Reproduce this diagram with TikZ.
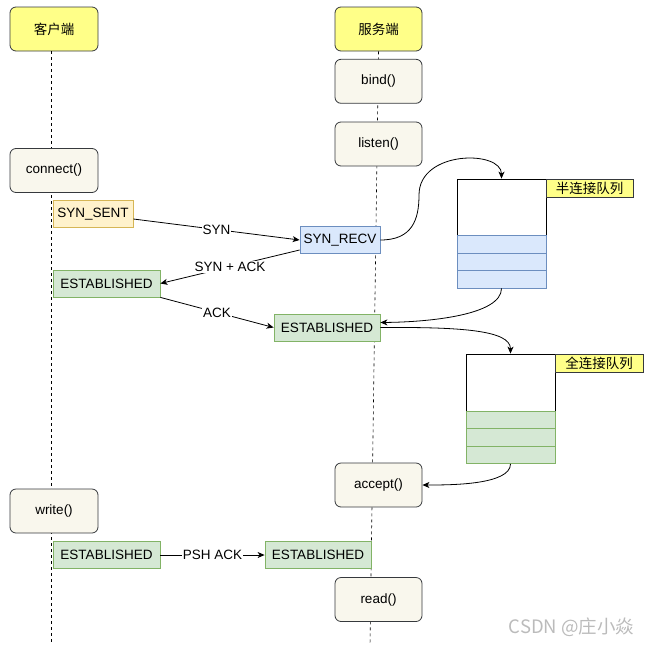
\documentclass[tikz,border=0pt]{standalone}
\usepackage{fontspec}
\setmainfont{Liberation Sans}
\newfontfamily\cjk{Noto Sans CJK SC}
\usetikzlibrary{arrows.meta}
\definecolor{hdrfill}{HTML}{FFFF88}
\definecolor{dkline}{HTML}{36393D}
\definecolor{procfill}{HTML}{F9F7ED}
\definecolor{synfill}{HTML}{FFF2CC}
\definecolor{synline}{HTML}{D6B656}
\definecolor{bluefill}{HTML}{DAE8FC}
\definecolor{blueline}{HTML}{6C8EBF}
\definecolor{greenfill}{HTML}{D5E8D4}
\definecolor{greenline}{HTML}{82B366}
\definecolor{wmark}{HTML}{BBBBBB}
\tikzset{
  base/.style={draw, line width=0.8pt, inner sep=0pt, font=\fontsize{13.5}{16}\selectfont},
  header/.style={base, draw=dkline, fill=hdrfill, rounded corners=6pt, minimum width=88pt, minimum height=44pt},
  proc/.style={base, draw=dkline, fill=procfill, rounded corners=6pt, minimum width=87pt, minimum height=44pt},
  sentbox/.style={base, draw=synline, fill=synfill, minimum height=26.5pt, minimum width=80pt},
  recvbox/.style={base, draw=blueline, fill=bluefill, minimum height=26.5pt, minimum width=80pt},
  estbox/.style={base, draw=greenline, fill=greenfill, minimum height=27pt, minimum width=106pt},
  qtop/.style={base, draw=black, fill=white, minimum width=89pt},
  qblue/.style={base, draw=blueline, fill=bluefill, minimum width=89pt, minimum height=17.5pt},
  qgreen/.style={base, draw=greenline, fill=greenfill, minimum width=89pt, minimum height=17.5pt},
  qlabel/.style={base, draw=dkline, fill=hdrfill, minimum width=87pt, minimum height=18pt},
  life/.style={draw=black, line width=0.6pt, dash pattern=on 3pt off 3pt},
  conn/.style={draw=black, line width=0.8pt, -{Stealth[length=7pt,width=6pt,inset=2pt]}},
  lbl/.style={fill=white, inner sep=1pt, font=\fontsize{13.5}{16}\selectfont}
}
\begin{document}
\begin{tikzpicture}[x=1pt,y=-1pt]
\useasboundingbox (0,0) rectangle (652,645);
% headers
\node[header] (chead) at (54,29) {\cjk 客户端};
\node[header, minimum width=87pt] (shead) at (378.5,29) {\cjk 服务端};
% lifelines
\coordinate (cend) at (51,645);
\coordinate (send) at (370,645);
\draw[life] ([xshift=-3pt]chead.south) -- (cend);
\draw[life] (shead.south) -- (send);
% server process boxes
\node[proc] (bind) at (378.5,81.3) {bind()};
\node[proc] (listen) at (378.5,144) {listen()};
\node[proc] (accept) at (378.5,485) {accept()};
\node[proc] (read) at (378.5,599.5) {read()};
% client process boxes
\node[proc, minimum width=88pt] (connect) at (54,170.5) {connect()};
\node[proc, minimum width=88pt] (write) at (54,511) {write()};
% state boxes
\node[sentbox] (synsent) at (93,214) {SYN\_SENT};
\node[recvbox] (synrecv) at (340,240) {SYN\_RECV};
\node[estbox, minimum width=107pt] (cest1) at (106.5,283.5) {ESTABLISHED};
\node[estbox] (sest1) at (327,327.5) {ESTABLISHED};
\node[estbox, minimum width=107pt, minimum height=26.5pt] (cest2) at (106.5,555) {ESTABLISHED};
\node[estbox, minimum height=26.5pt] (sest2) at (318,555) {ESTABLISHED};
% half connection queue
\node[qtop, minimum height=56.5pt] (hq) at (501.5,207.25) {};
\node[qblue] (hq1) at (501.5,244.25) {};
\node[qblue] (hq2) at (501.5,261.75) {};
\node[qblue] (hq3) at (501.5,279.25) {};
\node[qlabel] (hql) at (589.5,188) {\cjk 半连接队列};
% full connection queue
\node[qtop, minimum height=57pt] (fq) at (510.5,382.5) {};
\node[qgreen] (fq1) at (510.5,419.75) {};
\node[qgreen] (fq2) at (510.5,437.25) {};
\node[qgreen] (fq3) at (510.5,454.75) {};
\node[qlabel, minimum width=88pt] (fql) at (599,363) {\cjk 全连接队列};
% handshake connectors
\draw[conn] ([yshift=-5pt]synsent.east) -- (synrecv.west) node[lbl, midway] {SYN};
\draw[conn] ([yshift=-10pt]synrecv.west) -- (cest1.east) node[lbl, midway] {SYN + ACK};
\draw[conn] (cest1.south east) -- (sest1.west) node[lbl, midway] {ACK};
\draw[conn] (cest2.east) -- (sest2.west) node[lbl, midway] {PSH ACK};
% queue connectors
\draw[conn] (synrecv.east) .. controls (412,240) and (419,220) .. (419,195)
  .. controls (419,150) and (501.5,150) .. (hq.north);
\draw[conn] (hq3.south) .. controls (501.5,315) and (430,322) .. ([yshift=5pt]sest1.east);
\draw[conn] (sest1.east) .. controls (460,327) and (510.5,330) .. (fq.north);
\draw[conn] (fq3.south) .. controls (510.5,485) and (450,485) .. (accept.east);
% watermark
\node[font=\cjk\fontsize{18.5}{22}\selectfont, text=wmark, inner sep=0pt] (wm) at (571.5,627) {CSDN @庄小焱};
\end{tikzpicture}
\end{document}
